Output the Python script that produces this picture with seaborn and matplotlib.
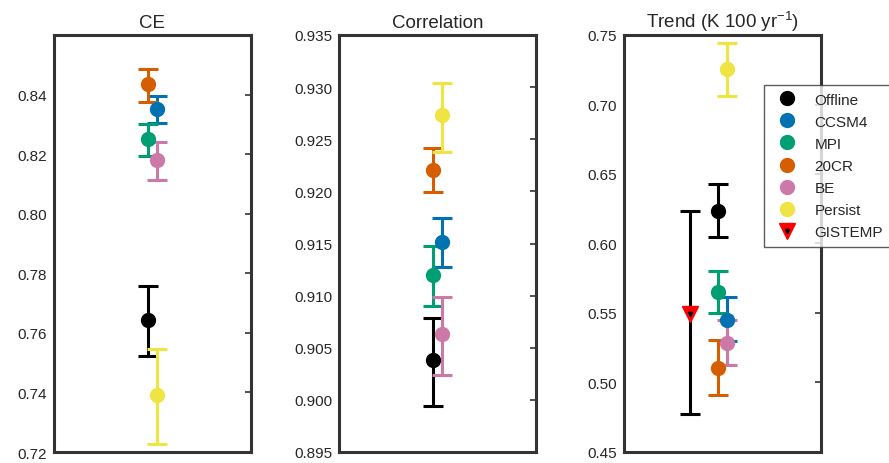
import matplotlib
matplotlib.use("Agg")
import matplotlib.pyplot as plt
from matplotlib.lines import Line2D
import seaborn as sns

# ── Data ──
datasets = ["Offline", "CCSM4", "MPI", "20CR", "BE", "Persist"]
colors = ["#000000", "#0072B2", "#009E73", "#D55E00", "#CC79A7", "#F0E442"]
x_pos = [0.95, 1.05, 0.95, 0.95, 1.05, 1.05]

ce_mid = [0.7643, 0.8351, 0.8250, 0.8437, 0.8180, 0.7392]
ce_lo = [0.7521, 0.8305, 0.8193, 0.8374, 0.8114, 0.7228]
ce_hi = [0.7758, 0.8394, 0.8302, 0.8486, 0.8241, 0.7547]

corr_mid = [0.90383, 0.91510, 0.91202, 0.92204, 0.90636, 0.92735]
corr_lo = [0.89942, 0.91276, 0.90898, 0.91990, 0.90242, 0.92377]
corr_hi = [0.90783, 0.91743, 0.91478, 0.92415, 0.90991, 0.93042]

trend_mid = [0.6233, 0.5453, 0.5650, 0.5102, 0.5287, 0.7253]
trend_lo = [0.6046, 0.5299, 0.5501, 0.4913, 0.5126, 0.7063]
trend_hi = [0.6425, 0.5618, 0.5803, 0.5304, 0.5448, 0.7445]

gistemp_x = 0.67
gistemp_mid = 0.5491
gistemp_lo = 0.4771
gistemp_hi = 0.6233

panels = [
    ("CE", ce_mid, ce_lo, ce_hi, (0.72, 0.86), [0.72, 0.74, 0.76, 0.78, 0.80, 0.82, 0.84], "{:.2f}"),
    ("Correlation", corr_mid, corr_lo, corr_hi, (0.895, 0.935),
     [0.895, 0.900, 0.905, 0.910, 0.915, 0.920, 0.925, 0.930, 0.935], "{:.3f}"),
    ("Trend (K 100 yr$^{-1}$)", trend_mid, trend_lo, trend_hi, (0.45, 0.75),
     [0.45, 0.50, 0.55, 0.60, 0.65, 0.70, 0.75], "{:.2f}"),
]

sns.set_style("white")
plt.rcParams["font.family"] = ["Liberation Sans", "DejaVu Sans"]
plt.rcParams["mathtext.default"] = "regular"
plt.rcParams["text.color"] = "#262626"

fig = plt.figure(figsize=(8.89, 4.64), dpi=100)
lefts = [54 / 889, 339 / 889, 624 / 889]
axes = [fig.add_axes([l, 1 - 453 / 464, 197 / 889, 417 / 464]) for l in lefts]

for ax, (title, mid, lo, hi, ylim, ticks, fmt) in zip(axes, panels):
    for xi, m, l, h, c, name in zip(x_pos, mid, lo, hi, colors, datasets):
        ax.errorbar([xi], [m], yerr=[[m - l], [h - m]], fmt="o", color=c,
                    ms=10, elinewidth=2.2, capsize=7, capthick=2.2, label=name)
    ax.set_xlim(0, 2)
    ax.set_ylim(*ylim)
    ax.set_yticks(ticks)
    ax.set_yticklabels([fmt.format(t) for t in ticks], fontsize=11, color="#262626")
    ax.set_xticks([])
    ax.set_title(title, fontsize=13.5, color="#262626", pad=6)
    ax.tick_params(axis="y", which="both", left=False, right=True, direction="in",
                   length=4, width=1.2, color="#333333", pad=5)
    for sp in ax.spines.values():
        sp.set_linewidth(2.2)
        sp.set_color("#333333")

# GISTEMP on trend panel
ax = axes[2]
ax.errorbar([gistemp_x], [gistemp_mid],
            yerr=[[gistemp_mid - gistemp_lo], [gistemp_hi - gistemp_mid]],
            fmt="none", ecolor="black", elinewidth=2.2, capsize=7, capthick=2.2)
ax.plot([gistemp_x], [gistemp_mid], marker="v", color="red", ms=11, mec="red", ls="none")
ax.plot([gistemp_x], [gistemp_mid], marker="v", color="black", ms=3, ls="none")

handles = [Line2D([], [], marker="o", color=c, ls="none", ms=10) for c in colors]
gis_handle = (Line2D([], [], marker="v", color="red", ms=11, ls="none"),
              Line2D([], [], marker="v", color="black", ms=3, ls="none"))
handles.append(gis_handle)
labels = datasets + ["GISTEMP"]
leg = fig.legend(handles, labels, loc="upper left", bbox_to_anchor=(764 / 889, 1 - 86 / 464),
                 fontsize=11, frameon=True, fancybox=False, labelspacing=0.53,
                 handletextpad=0.8, borderpad=0.5, borderaxespad=0, numpoints=1)
leg.get_frame().set_edgecolor("#333333")
leg.get_frame().set_linewidth(1.0)

fig.savefig("out.png", dpi=100)
